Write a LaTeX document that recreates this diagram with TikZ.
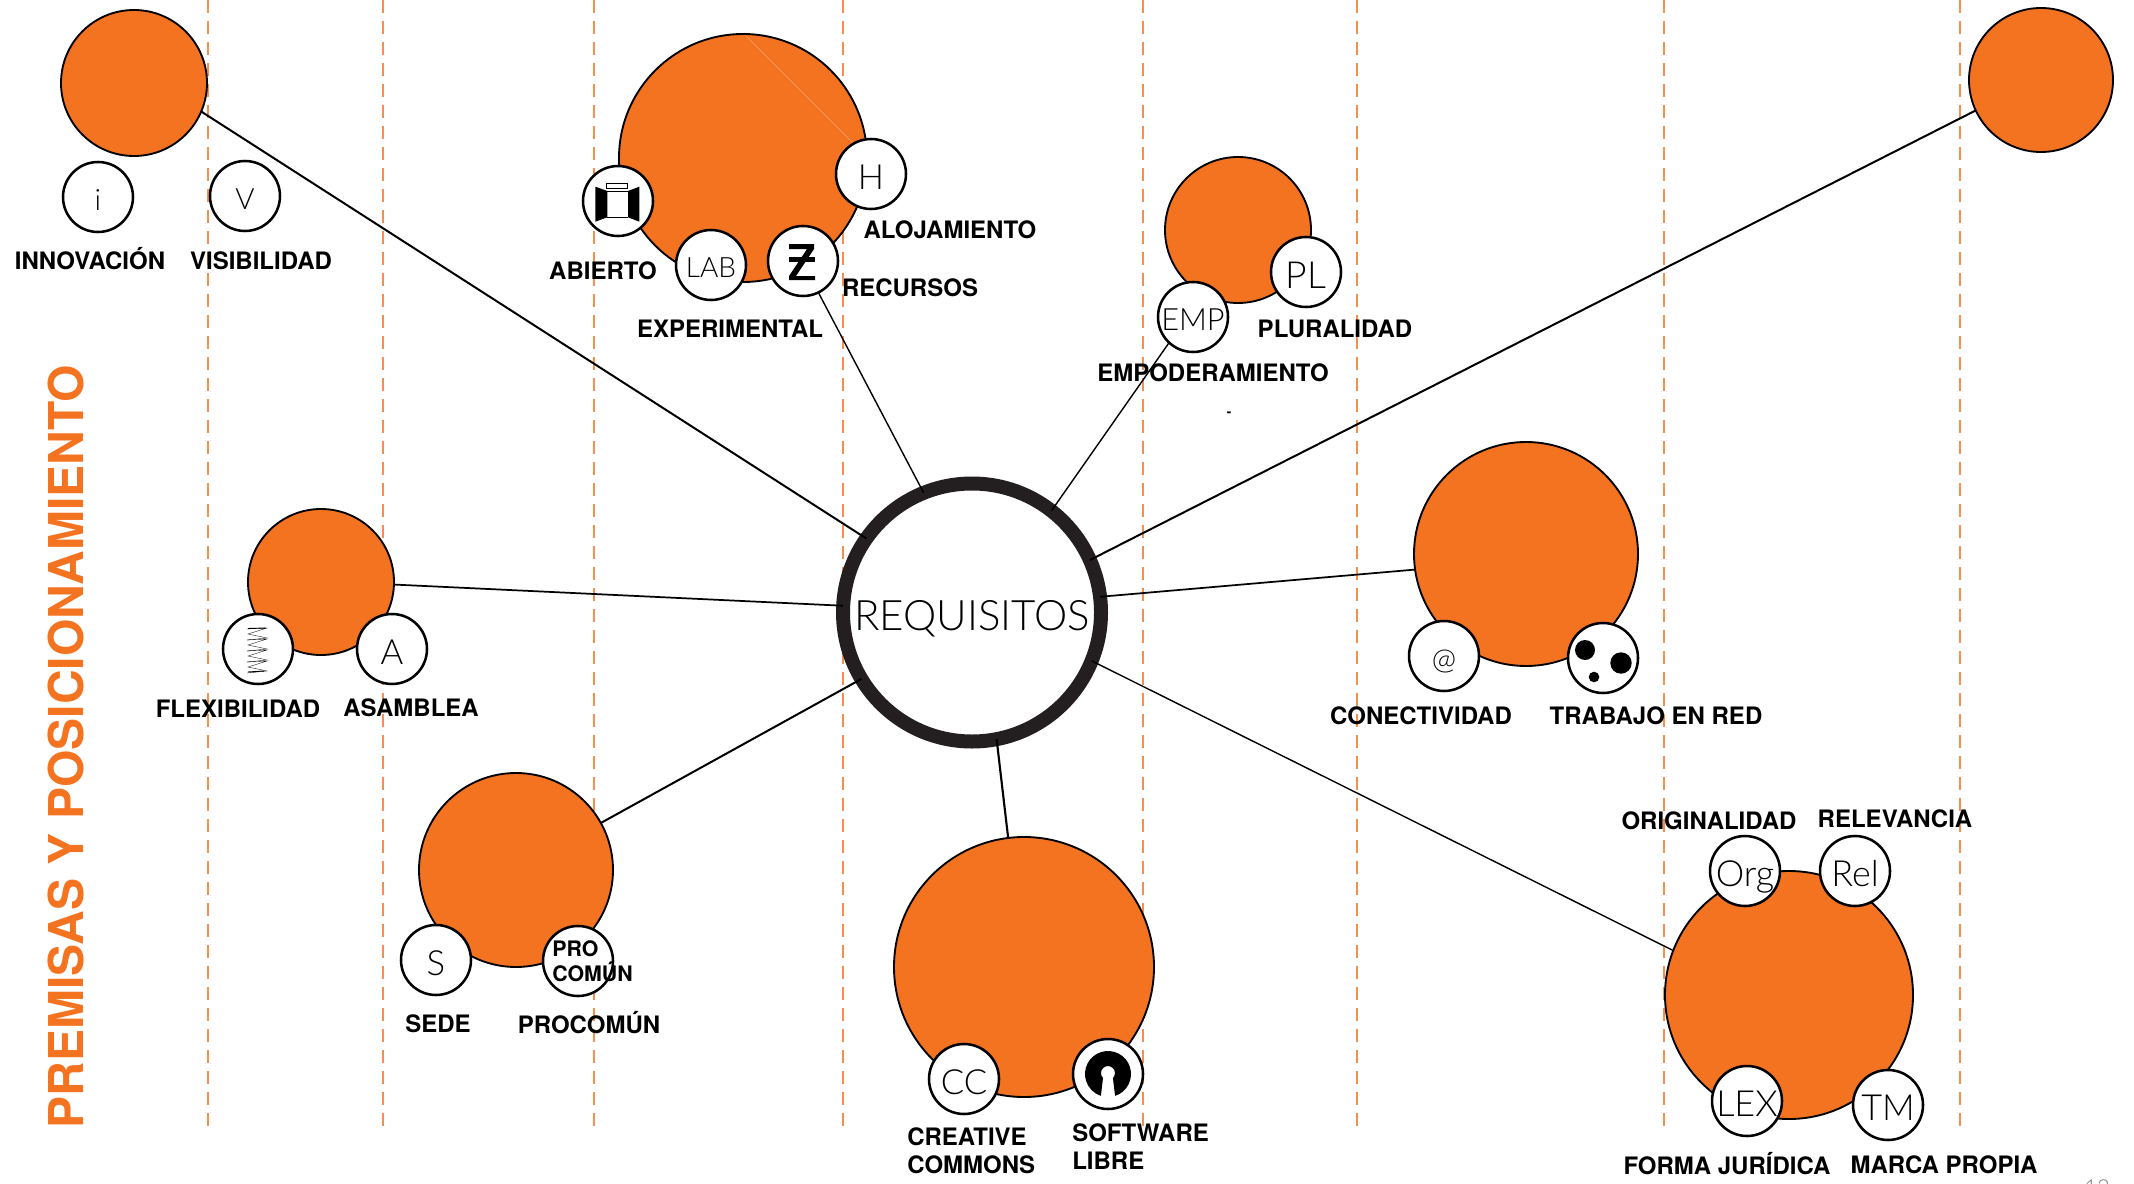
\documentclass[tikz,border=0pt]{standalone}
\usepackage{fontspec}
\setmainfont{TeX Gyre Heros}
\newfontfamily\finafont{Lato Light}
\definecolor{naranja}{HTML}{F47321}
\definecolor{tinta}{HTML}{231F20}
\newcommand{\fina}[1]{\finafont\fontsize{#1}{#1}\selectfont}
\tikzset{
  pilar/.style={circle,draw,fill=naranja,line width=1.4pt,inner sep=0,outer sep=0,minimum size=#1*1.5pt},
  peq/.style={circle,draw,fill=white,line width=1.9pt,inner sep=0,outer sep=0,minimum size=52.5pt},
  letra/.style={font=\fina{#1},text height=.72*#1pt+4pt,text depth=0pt},
  etiq/.style={inner sep=0,font=\bfseries\fontsize{18}{21}\selectfont,text height=14.5pt,text depth=0pt},
  etiqdos/.style={inner sep=0,font=\bfseries\fontsize{18}{21}\selectfont,align=left,anchor=west},
  guia/.style={naranja!80!white,line width=.85pt,dash pattern=on 9.75pt off 6pt},
  con/.style={line width=1.3pt},
  muelle/.style={line width=.25pt}
}
\begin{document}
\begin{tikzpicture}[x=.75pt,y=-.75pt]
\useasboundingbox (0,0) rectangle (2134,1184);
\foreach \x in {208,383,594,843,1143,1357,1664,1960}
  \draw[guia] (\x,0)--(\x,1128);
\node[rotate=90,inner sep=0,naranja,font=\bfseries\fontsize{36}{36}\selectfont,text height=26pt,text depth=0pt] (titulo) at (66,746.5) {PREMISAS Y POSICIONAMIENTO};

\node[pilar=73] (inno) at (134,83) {};
\node[pilar=124] (lab) at (743,158) {};
\draw[naranja!65!white,line width=.3pt] (746,36)--(853,143);
\node[pilar=73] (emp) at (1238,230) {};
\node[pilar=72] (red) at (2041,80) {};
\node[pilar=73] (flex) at (321,582) {};
\node[pilar=112] (cone) at (1526,554) {};
\node[pilar=97] (sede) at (516,870) {};
\node[pilar=130] (libre) at (1024,967) {};
\node[pilar=124] (forma) at (1789,995) {};
\node[circle,draw=tinta,fill=white,line width=10.5pt,inner sep=0,outer sep=0,minimum size=193.5pt,font=\fina{31.5},text height=27.5pt,text depth=0pt] (req) at (972,612.5) {REQUISITOS};

\node[peq,letra=22] (i) at (98,197) {i};
\node[peq,letra=22] (v) at (245,196) {V};
\node[peq] (abi) at (618,201) {};
\node[peq,letra=26] (h) at (871,174) {H};
\node[peq,letra=21] (labc) at (711,265) {LAB};
\node[peq] (z) at (803,261) {};
\node[peq,letra=28] (pl) at (1306,272) {PL};
\node[peq,letra=23] (empc) at (1193,317) {EMP};
\node[peq] (muelle) at (258,649) {};
\node[peq,letra=26] (a) at (392,649) {A};
\node[peq,letra=26] (s) at (436,960) {S};
\node[peq] (pro) at (578,961) {};
\node[peq,letra=26] (cc) at (964,1079) {CC};
\node[peq] (osi) at (1108,1074) {};
\node[peq,letra=22] (arroba) at (1444,656) {@};
\node[peq] (puntos) at (1603,658) {};
\node[peq,letra=27] (org) at (1745,871) {Org};
\node[peq,letra=27] (rel) at (1855,871) {Rel};
\node[peq,letra=27] (lex) at (1747,1101) {LEX};
\node[peq,letra=27] (tm) at (1888,1105) {TM};

\draw[con,line width=1.5pt] (req.145)--(inno.-23);
\draw[con,line width=1.5pt] (req.24)--(red.205);
\draw[con] (req.177)--(flex.-2);
\draw[con] (req.7)--(cone.188);
\draw[con,line width=1.5pt] (req.211)--(sede.29);
\draw[con,line width=1.6pt] (req.281)--(libre.97.5);
\draw[con,line width=1.05pt] (req.-22.6)--(forma.159);
\draw[con,line width=1.05pt] (req.112)--(z.-64);
\draw[con,line width=1.05pt] (req.52)--(empc.227);

\begin{scope}[shift={(abi)}]
\fill (-22.7,-14.3)--(-10.7,-10)--(-10.7,16.3)--(-22.7,20.7)--cycle;
\fill (21.3,-14.3)--(10,-10)--(10,16.3)--(21.3,20.7)--cycle;
\draw[line width=.6pt] (-10.7,-10)--(10,-10) (-10.7,16.3)--(10,16.3);
\draw[line width=.6pt] (-11.7,-18) rectangle (9.7,-12.3);
\end{scope}
\begin{scope}[shift={(z)}]
\fill (-14,-17)--(11,-17)--(11,-12)--(-7,15)--(12,15)--(12,19)--(-14,19)--(-14,15)--(4,-12)--(-14,-12)--cycle;
\fill (-14,-4) rectangle (12,1);
\end{scope}
\begin{scope}[shift={(muelle)}]
\foreach \y in {-20,-9,2,13}
  \draw[muelle] (-11,\y)--(9,\y-1)--(-10,\y+5)--(9,\y+9)--(-11,\y+11);
\draw[line width=.7pt] (-10,-20.5)--(8,-21);
\draw[line width=.7pt] (-10,23)--(6,22);
\end{scope}
\begin{scope}[shift={(osi)},yscale=-1]
\fill (288:23) arc (-72:252:23)--(-5,-4) arc (225:-45:7)--cycle;
\end{scope}
\begin{scope}[shift={(puntos)}]
\fill (-18,-8) circle (10);
\fill (18,5) circle (10.7);
\fill (-9,19) circle (5.3);
\end{scope}

\node[inner sep=0,anchor=west,font=\bfseries\fontsize{16}{19}\selectfont,align=left] (proc) at (552,961.5) {PRO\\COMÚN};

\node[etiq] (tinno) at (90,260) {INNOVACIÓN};
\node[etiq] (tvis) at (261,260) {VISIBILIDAD};
\node[etiq] (tabi) at (603,270) {ABIERTO};
\node[etiq] (talo) at (950,229) {ALOJAMIENTO};
\node[etiq] (trec) at (910,287) {RECURSOS};
\node[etiq] (texp) at (730,328) {EXPERIMENTAL};
\node[etiq] (tplu) at (1335,328) {PLURALIDAD};
\node[etiq] (temp) at (1213,372) {EMPODERAMIENTO};
\node[inner sep=0,font=\bfseries\fontsize{10}{10}\selectfont] (guion) at (1229,414) {-};
\node[etiq] (tfle) at (238,708) {FLEXIBILIDAD};
\node[etiq] (tasa) at (411,707) {ASAMBLEA};
\node[etiq] (tsed) at (438,1023) {SEDE};
\node[etiq] (tpro) at (589,1024) {PROCOMÚN};
\node[etiqdos] (tcre) at (907,1151) {CREATIVE\\COMMONS};
\node[etiqdos] (tsof) at (1072,1147) {SOFTWARE\\LIBRE};
\node[etiq] (tcon) at (1421,715) {CONECTIVIDAD};
\node[etiq] (ttra) at (1656,715) {TRABAJO EN RED};
\node[etiq] (tori) at (1709,820) {ORIGINALIDAD};
\node[etiq] (trel) at (1895,818) {RELEVANCIA};
\node[etiq] (tfor) at (1727,1165) {FORMA JURÍDICA};
\node[etiq] (tmar) at (1944,1164) {MARCA PROPIA};
\node[gray,inner sep=0,font=\fina{16.5}] (pagina) at (2097,1188) {13};
\end{tikzpicture}
\end{document}
